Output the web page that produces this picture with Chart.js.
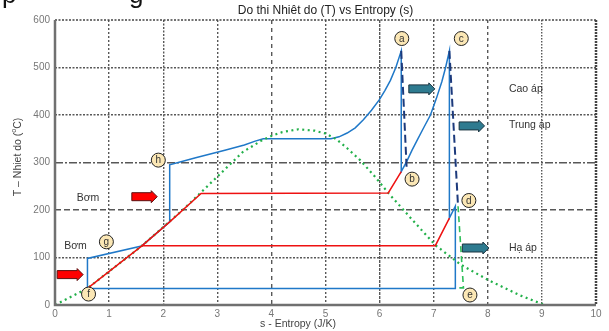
<!DOCTYPE html>
<html>
<head>
<meta charset="utf-8">
<script src="https://cdn.jsdelivr.net/npm/chart.js@4/dist/chart.umd.min.js"></script>
<style>
  html, body { margin: 0; padding: 0; background: #fff; overflow: hidden; }
  canvas { display: block; }
</style>
</head>
<body>
<canvas id="ts" width="609" height="331"></canvas>
<script>
// ---- Cycle data: s (J/K) and T (°C) ----
const domeS = [0, 0.6, 1.6, 2.36, 2.99, 3.47, 3.8, 4.0, 4.2, 4.5, 4.8, 5.0, 5.2, 5.4, 5.64, 5.9, 6.16, 6.6, 7.03, 7.5, 8.0, 8.6, 9.05];
const domeT = [0, 35, 124, 200, 269, 322, 345, 356, 364, 370, 367, 361, 349, 330, 305, 272, 236, 180, 126, 85, 53, 20, 0];

const cycleS = [0.6, 0.6, 1.6, 2.12, 2.12, 2.6, 3.14, 3.5, 3.7, 3.85, 5.1, 5.25, 5.4, 5.55, 5.7, 5.85, 6.0, 6.1, 6.2, 6.3, 6.40,
                6.40, 6.5, 6.6, 6.7, 6.8, 6.94, 7.05, 7.15, 7.22, 7.29, 7.29, 7.40, 7.40, 0.6];
const cycleT = [35, 98, 124, 175, 295, 310, 326, 337, 345, 350, 350, 354, 362, 373, 390, 410, 433, 452, 473, 500, 535,
                281, 302, 326, 348, 370, 400, 435, 470, 500, 535, 183, 208, 35, 35];

const pumpHiS = [0.6, 1.6, 2.12, 2.70, 6.16, 6.40];
const pumpHiT = [35, 124, 175, 235, 236, 281];
const pumpLoS = [1.6, 7.03, 7.29];
const pumpLoT = [125, 125, 183];

const isenHiS = [6.40, 6.50];
const isenHiT = [535, 288];
const isenMidS = [7.29, 7.45];
const isenMidT = [535, 208];
const isenLoS = [7.45, 7.55, 7.42];
const isenLoT = [208, 36, 36];

// state point markers
const stateNames = ['a', 'b', 'c', 'd', 'e', 'f', 'g', 'h'];
const stateS = [6.41, 6.60, 7.51, 7.65, 7.67, 0.62, 0.95, 1.91];
const stateT = [561, 265, 561, 220, 21, 23, 133, 305];

// annotations
const noteText = ['Bơm', 'Bơm', 'Cao áp', 'Trung áp', 'Hạ áp'];
const noteS = [0.40, 0.17, 8.39, 8.39, 8.39];
const noteT = [225, 123, 455, 379, 120];

// flow arrows: start s, end s, T, kind
const arrowFrom = [0.04, 1.42, 6.54, 7.47, 7.53];
const arrowTo = [0.52, 1.89, 7.02, 7.94, 8.02];
const arrowT = [64, 228, 455, 377, 120];
const arrowKind = ['pump', 'pump', 'steam', 'steam', 'steam'];

// axis ticks
const sTicks = [0, 1, 2, 3, 4, 5, 6, 7, 8, 9, 10];
const tTicks = [0, 100, 200, 300, 400, 500, 600];

const FONT = '"Liberation Sans", Arial, sans-serif';
const xDash = {1: [2, 2], 2: [2, 1.5], 3: [2, 2], 4: [4, 4], 5: [2, 2], 6: [3, 1], 7: [2, 2], 8: [3, 3], 9: [1.5, 1.5]};
const yDash = {100: [2, 1.5], 200: [6, 3], 300: [8, 2, 2, 2], 400: [2, 1.5], 500: [2, 1.5]};

const pts = (xs, ys) => xs.map((x, i) => ({x, y: ys[i]}));

function line(label, xs, ys, color, width, dash, order) {
  return {
    label, data: pts(xs, ys), showLine: true, borderColor: color, backgroundColor: color,
    borderWidth: width, borderDash: dash, pointRadius: 0, tension: 0, order
  };
}

function drawArrow(ctx, x0, x1, yc, fill, stroke) {
  const bodyH = 8, headH = 12, headL = 6;
  const xh = x1 - headL;
  ctx.beginPath();
  ctx.moveTo(x0, yc - bodyH / 2);
  ctx.lineTo(xh, yc - bodyH / 2);
  ctx.lineTo(xh, yc - headH / 2);
  ctx.lineTo(x1, yc);
  ctx.lineTo(xh, yc + headH / 2);
  ctx.lineTo(xh, yc + bodyH / 2);
  ctx.lineTo(x0, yc + bodyH / 2);
  ctx.closePath();
  ctx.fillStyle = fill;
  ctx.fill();
  ctx.lineWidth = 1;
  ctx.strokeStyle = stroke;
  ctx.stroke();
}

const decor = {
  id: 'decor',
  afterDatasetsDraw(chart) {
    const ctx = chart.ctx, a = chart.chartArea;
    const xs = chart.scales.x, ys = chart.scales.y;
    ctx.save();

    // frame
    ctx.strokeStyle = '#444';
    ctx.lineWidth = 1.5;
    ctx.setLineDash([2, 1.5]);
    ctx.beginPath(); ctx.moveTo(a.left, a.top); ctx.lineTo(a.right, a.top); ctx.stroke();
    ctx.lineWidth = 2.5;
    ctx.setLineDash([2, 1]);
    ctx.beginPath(); ctx.moveTo(a.right, a.top); ctx.lineTo(a.right, a.bottom); ctx.stroke();
    ctx.setLineDash([]);
    ctx.strokeStyle = '#707070';
    ctx.lineWidth = 2.5;
    ctx.beginPath(); ctx.moveTo(a.left, a.top); ctx.lineTo(a.left, a.bottom); ctx.lineTo(a.right, a.bottom); ctx.stroke();

    // arrows
    for (let i = 0; i < arrowFrom.length; i++) {
      const pump = arrowKind[i] === 'pump';
      drawArrow(ctx, xs.getPixelForValue(arrowFrom[i]), xs.getPixelForValue(arrowTo[i]),
        ys.getPixelForValue(arrowT[i]),
        pump ? '#ff0000' : '#2e7b90', pump ? '#5a1010' : '#1b3440');
    }

    // notes
    ctx.fillStyle = '#333';
    ctx.font = '10.5px ' + FONT;
    ctx.textAlign = 'left';
    ctx.textBaseline = 'middle';
    noteText.forEach((t, i) => ctx.fillText(t, xs.getPixelForValue(noteS[i]), ys.getPixelForValue(noteT[i])));

    // state markers
    stateNames.forEach((n, i) => {
      const x = xs.getPixelForValue(stateS[i]), y = ys.getPixelForValue(stateT[i]);
      ctx.beginPath();
      ctx.arc(x, y, 7, 0, Math.PI * 2);
      ctx.fillStyle = '#fbe7b5';
      ctx.fill();
      ctx.lineWidth = 1;
      ctx.strokeStyle = '#222';
      ctx.stroke();
      ctx.fillStyle = '#333';
      ctx.font = '10px ' + FONT;
      ctx.textAlign = 'center';
      ctx.textBaseline = 'middle';
      ctx.fillText(n, x, y + 0.5);
    });

    // titles
    ctx.fillStyle = '#222';
    ctx.font = '12px ' + FONT;
    ctx.textAlign = 'center';
    ctx.textBaseline = 'middle';
    ctx.fillText('Do thi Nhiêt do (T) vs Entropy (s)', (a.left + a.right) / 2, 11);

    ctx.fillStyle = '#444';
    ctx.font = '10.5px ' + FONT;
    ctx.fillText('s - Entropy (J/K)', 298, 324);

    // vertical axis title with raised degree mark
    ctx.save();
    ctx.translate(18, 157);
    ctx.rotate(-Math.PI / 2);
    const p1 = 'T – Nhiet do (', p2 = 'o', p3 = 'C)';
    ctx.font = '10.5px ' + FONT;
    const w1 = ctx.measureText(p1).width, w3 = ctx.measureText(p3).width;
    ctx.font = '7px ' + FONT;
    const w2 = ctx.measureText(p2).width;
    let x = -(w1 + w2 + w3) / 2;
    ctx.textAlign = 'left';
    ctx.font = '10.5px ' + FONT;
    ctx.fillText(p1, x, 0); x += w1;
    ctx.font = '7px ' + FONT;
    ctx.fillText(p2, x, -4); x += w2;
    ctx.font = '10.5px ' + FONT;
    ctx.fillText(p3, x, 0);
    ctx.restore();

    // heading fragment above the chart
    ctx.fillStyle = '#111';
    ctx.font = '26px ' + FONT;
    ctx.textAlign = 'left';
    ctx.textBaseline = 'alphabetic';
    ctx.fillText('p', 2, 3);
    ctx.fillText('g', 129, 3);

    ctx.restore();
  }
};

new Chart(document.getElementById('ts'), {
  type: 'scatter',
  data: {
    datasets: [
      line('Bơm cao', pumpHiS, pumpHiT, '#ee1111', 1.5, [], 1),
      line('Bơm thấp', pumpLoS, pumpLoT, '#ee1111', 1.5, [], 1),
      line('Giãn nở cao áp', isenHiS, isenHiT, '#1c3a7c', 2, [8, 4], 2),
      line('Giãn nở trung áp', isenMidS, isenMidT, '#1c3a7c', 2, [8, 4], 2),
      line('Giãn nở hạ áp', isenLoS, isenLoT, '#2fbf5a', 1.6, [6, 4], 2),
      line('Đường bão hòa', domeS, domeT, '#22b04a', 2.2, [2, 3.5], 3),
      line('Chu trình', cycleS, cycleT, '#1f78c8', 1.5, [], 4)
    ]
  },
  options: {
    responsive: false,
    devicePixelRatio: 1,
    animation: false,
    events: [],
    layout: {padding: {top: 20, right: 13, left: 0, bottom: 0}},
    plugins: {legend: {display: false}, tooltip: {enabled: false}, title: {display: false}},
    scales: {
      x: {
        type: 'linear', min: 0, max: 10,
        afterFit: s => { s.height = 26; },
        afterBuildTicks: s => { s.ticks = sTicks.map(v => ({value: v})); },
        ticks: {color: '#777', font: {family: FONT, size: 10}, padding: 3, callback: v => String(v)},
        grid: {
          drawTicks: false, lineWidth: 1.4,
          color: c => (c.tick && (c.tick.value === 0 || c.tick.value === 10)) ? 'rgba(0,0,0,0)' : '#585858'
        },
        border: {display: false, dash: c => (c.tick ? (xDash[c.tick.value] || []) : [])}
      },
      y: {
        type: 'linear', min: 0, max: 600,
        afterFit: s => { s.width = 55; },
        afterBuildTicks: s => { s.ticks = tTicks.map(v => ({value: v})); },
        ticks: {color: '#777', font: {family: FONT, size: 10}, padding: 5, callback: v => String(v)},
        grid: {
          drawTicks: false, lineWidth: 1.4,
          color: c => (c.tick && (c.tick.value === 0 || c.tick.value === 600)) ? 'rgba(0,0,0,0)' : '#585858'
        },
        border: {display: false, dash: c => (c.tick ? (yDash[c.tick.value] || []) : [])}
      }
    }
  },
  plugins: [decor]
});
</script>
</body>
</html>
